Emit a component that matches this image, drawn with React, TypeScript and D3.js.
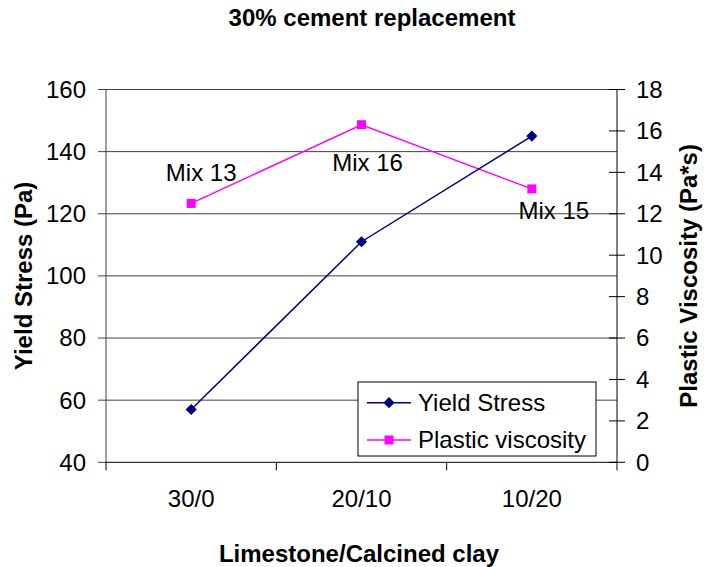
import React from "react";
import * as d3 from "d3";

// Mix ratios (limestone / calcined clay) at 30% cement replacement
const categories = ["30/0", "20/10", "10/20"];
const yieldStress = [57, 111, 145];
const plasticViscosity = [12.5, 16.3, 13.2];
const mixLabels = ["Mix 13", "Mix 16", "Mix 15"];
const leftTicks = [40, 60, 80, 100, 120, 140, 160];
const rightTicks = [0, 2, 4, 6, 8, 10, 12, 14, 16, 18];

// placement of the mix labels relative to their viscosity points
const mixLabelOffsets = [
  { dx: 10, dy: -22 },
  { dx: 6, dy: 46 },
  { dx: 22, dy: 30 },
];

const W = 704;
const H = 567;
const plot = { left: 106, right: 617, top: 89.5, bottom: 462.3 };
const FONT = "Arial, 'Liberation Sans', sans-serif";
const NAVY = "#000080";
const MAGENTA = "#FF00FF";

export default function App() {
  const x = d3
    .scaleBand<string>()
    .domain(categories)
    .range([plot.left, plot.right]);
  const cx = (c: string) => (x(c) ?? 0) + x.bandwidth() / 2;
  const yL = d3.scaleLinear().domain([40, 160]).range([plot.bottom, plot.top]);
  const yR = d3.scaleLinear().domain([0, 18]).range([plot.bottom, plot.top]);

  const ysLine = d3
    .line<number>()
    .x((_, i) => cx(categories[i]))
    .y((d) => yL(d));
  const pvLine = d3
    .line<number>()
    .x((_, i) => cx(categories[i]))
    .y((d) => yR(d));

  const diamond = d3.symbol().type(d3.symbolDiamond2).size(80)();
  const square = (px: number, py: number, key: string | number) => (
    <rect key={key} x={px - 4.5} y={py - 4.5} width={9} height={9} fill={MAGENTA} />
  );

  const legend = { x: 358, y: 382, w: 238, h: 74 };

  return (
    <svg
      width={W}
      height={H}
      style={{ position: "absolute", left: 0, top: 0, background: "#fff" }}
      fontFamily={FONT}
    >
      {/* title */}
      <text x={372} y={26} textAnchor="middle" fontSize={24} fontWeight="bold">
        30% cement replacement
      </text>

      {/* horizontal gridlines */}
      {leftTicks.slice(1).map((t) => (
        <line
          key={"g" + t}
          x1={plot.left}
          x2={plot.right}
          y1={yL(t)}
          y2={yL(t)}
          stroke="#404040"
          strokeWidth={1}
        />
      ))}

      {/* left axis */}
      <line x1={plot.left} x2={plot.left} y1={plot.top} y2={plot.bottom} stroke="#404040" />
      {leftTicks.map((t) => (
        <g key={"l" + t}>
          <line x1={plot.left - 8} x2={plot.left} y1={yL(t)} y2={yL(t)} stroke="#404040" />
          <text x={86} y={yL(t)} dy="0.35em" textAnchor="end" fontSize={24}>
            {t}
          </text>
        </g>
      ))}

      {/* bottom axis */}
      <line x1={plot.left} x2={plot.right} y1={plot.bottom} y2={plot.bottom} stroke="#000" />
      {[...categories.map((c) => x(c) ?? 0), plot.right].map((px, i) => (
        <line key={"bt" + i} x1={px} x2={px} y1={plot.bottom} y2={plot.bottom + 8} stroke="#000" />
      ))}
      {categories.map((c) => (
        <text key={"c" + c} x={cx(c)} y={507} textAnchor="middle" fontSize={24}>
          {c}
        </text>
      ))}
      <text x={359} y={562} textAnchor="middle" fontSize={24} fontWeight="bold">
        Limestone/Calcined clay
      </text>

      {/* right axis */}
      <line x1={plot.right} x2={plot.right} y1={plot.top} y2={plot.bottom} stroke="#000" />
      {rightTicks.map((t) => (
        <g key={"r" + t}>
          <line x1={plot.right - 8} x2={plot.right + 8} y1={yR(t)} y2={yR(t)} stroke="#000" />
          <text x={636} y={yR(t)} dy="0.35em" textAnchor="start" fontSize={24}>
            {t}
          </text>
        </g>
      ))}

      {/* axis titles */}
      <text
        transform={`translate(32, ${(plot.top + plot.bottom) / 2}) rotate(-90)`}
        textAnchor="middle"
        fontSize={24}
        fontWeight="bold"
      >
        Yield Stress (Pa)
      </text>
      <text
        transform={`translate(697, ${(plot.top + plot.bottom) / 2}) rotate(-90)`}
        textAnchor="middle"
        fontSize={24}
        fontWeight="bold"
      >
        Plastic Viscosity (Pa*s)
      </text>

      {/* series */}
      <path d={pvLine(plasticViscosity) ?? ""} fill="none" stroke={MAGENTA} strokeWidth={1.5} />
      {plasticViscosity.map((v, i) => square(cx(categories[i]), yR(v), "pv" + i))}
      <path d={ysLine(yieldStress) ?? ""} fill="none" stroke={NAVY} strokeWidth={1.5} />
      {yieldStress.map((v, i) => (
        <path
          key={"ys" + i}
          d={diamond ?? ""}
          transform={`translate(${cx(categories[i])}, ${yL(v)})`}
          fill={NAVY}
        />
      ))}

      {/* mix labels */}
      {mixLabels.map((m, i) => (
        <text
          key={m}
          x={cx(categories[i]) + mixLabelOffsets[i].dx}
          y={yR(plasticViscosity[i]) + mixLabelOffsets[i].dy}
          textAnchor="middle"
          fontSize={24}
        >
          {m}
        </text>
      ))}

      {/* legend */}
      <rect
        x={legend.x}
        y={legend.y}
        width={legend.w}
        height={legend.h}
        fill="#fff"
        stroke="#000"
        strokeWidth={1}
      />
      <line x1={367} x2={411} y1={402.7} y2={402.7} stroke={NAVY} strokeWidth={1.5} />
      <path d={diamond ?? ""} transform="translate(389, 402.7)" fill={NAVY} />
      <text x={418} y={402.7} dy="0.35em" fontSize={24}>
        Yield Stress
      </text>
      <line x1={367} x2={411} y1={440} y2={440} stroke={MAGENTA} strokeWidth={1.5} />
      {square(389, 440, "legsq")}
      <text x={418} y={440} dy="0.35em" fontSize={24}>
        Plastic viscosity
      </text>
    </svg>
  );
}
